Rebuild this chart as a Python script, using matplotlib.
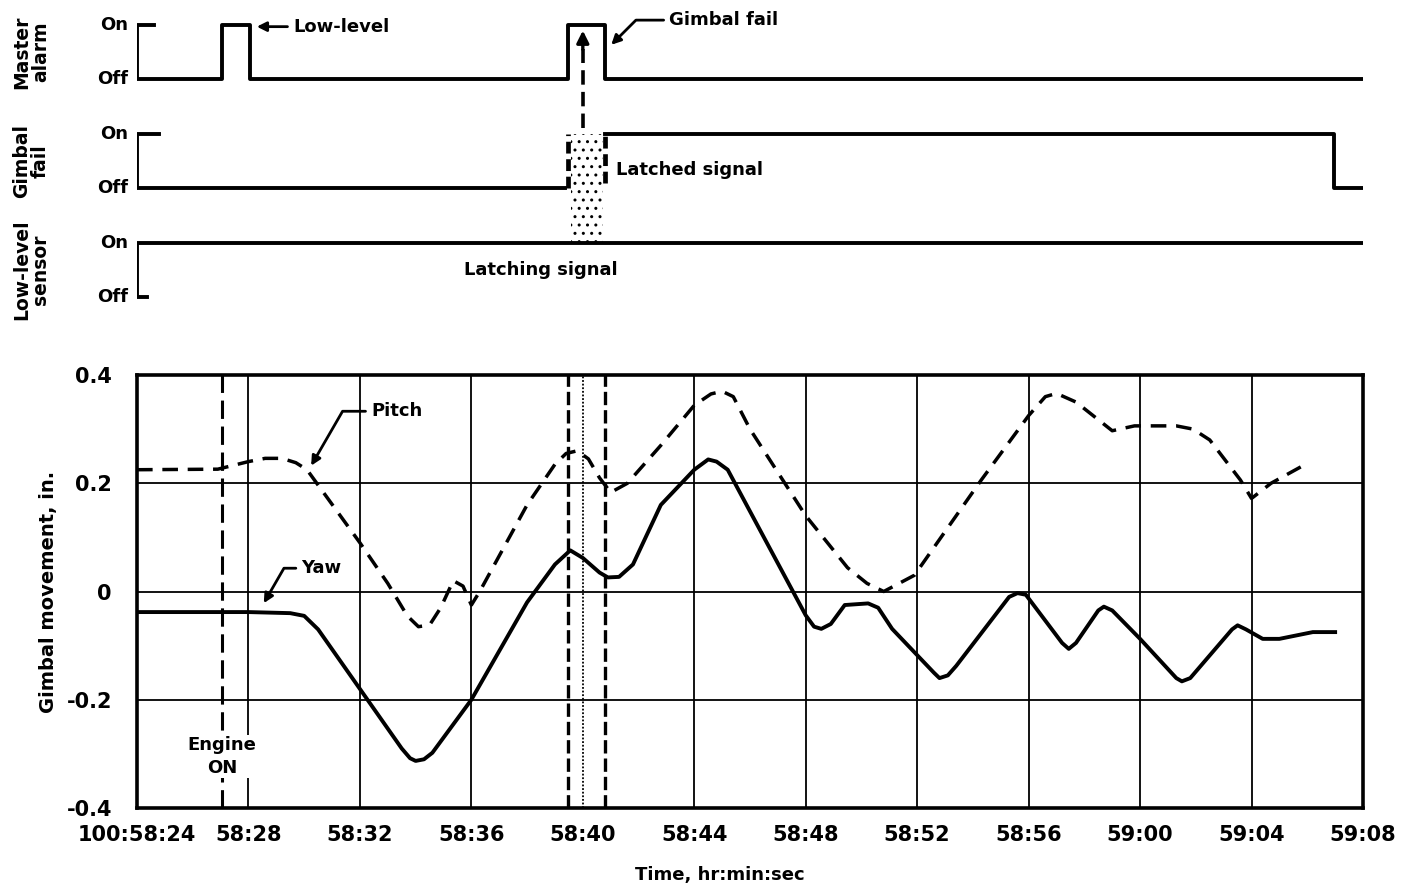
import matplotlib
matplotlib.use('Agg')
import matplotlib.pyplot as plt

plt.rcParams['font.family'] = ['DejaVu Sans']
plt.rcParams['font.weight'] = 'bold'
plt.rcParams['axes.labelweight'] = 'bold'

# time axis: seconds after 100:58:24
tick_sec = [0, 4, 8, 12, 16, 20, 24, 28, 32, 36, 40, 44]
tick_labels = ['100:58:24', '58:28', '58:32', '58:36', '58:40', '58:44',
               '58:48', '58:52', '58:56', '59:00', '59:04', '59:08']
y_ticks = [-0.4, -0.2, 0, 0.2, 0.4]
y_labels = ['-0.4', '-0.2', '0', '0.2', '0.4']

pitch_t = [0, 2.9, 4.0, 4.6, 5.2, 5.7, 6.1, 8.0, 9.0, 9.7, 10.1, 10.5, 10.9,
           11.35, 11.7, 12.0, 12.3, 14.0, 15.0, 15.4, 15.8, 16.2, 16.6, 17.0,
           17.6, 18.8, 20.0, 20.6, 21.0, 21.4, 22.0, 24.0, 25.5, 26.2, 26.8,
           27.9, 30.3, 32.0, 32.6, 33.0, 33.7, 35.0, 35.8, 37.3, 37.9, 38.5,
           39.6, 40.0, 40.7, 41.9]
pitch_v = [0.225, 0.226, 0.24, 0.246, 0.246, 0.238, 0.225, 0.09, 0.015, -0.045,
           -0.065, -0.062, -0.03, 0.02, 0.01, -0.025, 0.0, 0.16, 0.235, 0.255,
           0.26, 0.245, 0.21, 0.183, 0.2, 0.27, 0.344, 0.365, 0.37, 0.36, 0.30,
           0.14, 0.044, 0.015, 0.0, 0.03, 0.206, 0.325, 0.36, 0.366, 0.35,
           0.297, 0.306, 0.306, 0.3, 0.28, 0.206, 0.172, 0.2, 0.234]

yaw_t = [0, 4.0, 5.5, 6.0, 6.5, 8.0, 9.5, 9.8, 10.0, 10.3, 10.6, 12.0, 14.0,
         15.0, 15.55, 16.0, 16.6, 16.9, 17.3, 17.8, 18.8, 20.0, 20.5, 20.8,
         21.2, 22.5, 24.0, 24.3, 24.56, 24.9, 25.4, 26.24, 26.6, 27.1, 28.6,
         28.8, 29.1, 29.4, 31.3, 31.6, 31.9, 33.2, 33.44, 33.7, 34.5, 34.7,
         35.0, 36.0, 37.3, 37.5, 37.8, 39.3, 39.5, 39.8, 40.4, 41.0, 42.2,
         43.0]
yaw_v = [-0.038, -0.038, -0.04, -0.045, -0.07, -0.18, -0.29, -0.308, -0.313,
         -0.31, -0.298, -0.2, -0.02, 0.05, 0.076, 0.062, 0.035, 0.026, 0.027,
         0.05, 0.16, 0.225, 0.244, 0.24, 0.225, 0.1, -0.044, -0.065, -0.069,
         -0.06, -0.025, -0.022, -0.03, -0.069, -0.15, -0.16, -0.155, -0.1375,
         -0.01, -0.003, -0.006, -0.095, -0.106, -0.095, -0.035, -0.028, -0.035,
         -0.0875, -0.16, -0.166, -0.16, -0.07, -0.0625, -0.07, -0.0875, -0.0875,
         -0.075, -0.075]

engine_on = 3.05
latch_start = 15.48
latch_mid = 16.0
latch_end = 16.8

# discrete signals (1 = On, 0 = Off)
master_t = [0.6, 0, 0, 3.05, 3.05, 4.06, 4.06, 15.48, 15.48, 16.8, 16.8, 44.1]
master_s = [1, 1, 0, 0, 1, 1, 0, 0, 1, 1, 0, 0]
gimbal_before_t = [0.8, 0, 0, 15.35]
gimbal_before_s = [1, 1, 0, 0]
gimbal_after_t = [16.8, 42.95, 42.95, 44.1]
gimbal_after_s = [1, 1, 0, 0]
low_t = [0.35, 0, 0, 44.0]
low_s = [0, 0, 1, 1]

rows = ['Master\nalarm', 'Gimbal\nfail', 'Low-level\nsensor']
row_base = [4, 2, 0]

fig = plt.figure(figsize=(14.06, 8.92), dpi=100)
L, R = 137 / 1406, 1363 / 1406

# ---- top: signal traces
ax1 = fig.add_axes([L, 1 - 330 / 892, R - L, 330 / 892])
ax1.set_xlim(0, 44)
ax1.set_ylim(-0.607, 5.46)
ax1.axis('off')

lw = 2.8
ax1.plot(master_t, [s + 4 for s in master_s], color='k', lw=lw)
ax1.plot(gimbal_before_t, [s + 2 for s in gimbal_before_s], color='k', lw=lw)
ax1.plot(gimbal_after_t, [s + 2 for s in gimbal_after_s], color='k', lw=lw)
ax1.plot(low_t, low_s, color='k', lw=lw)
ax1.plot([latch_start, latch_start], [2, 3], color='k', lw=lw + 0.6, ls=(0, (2.5, 1.2)))
ax1.plot([latch_end, latch_end], [2.1, 3], color='k', lw=lw + 0.6, ls=(0, (2.5, 1.2)))
ax1.fill_between([latch_start + 0.08, latch_end - 0.08], 1, 3, facecolor='none',
                 edgecolor='k', hatch='..', linewidth=0)
ax1.plot([latch_mid, latch_mid], [3.1, 4.55], color='k', lw=2.6, ls=(0, (4, 2)))
ax1.annotate('', xy=(latch_mid, 4.95), xytext=(latch_mid, 4.5),
             arrowprops=dict(arrowstyle='-|>', color='k', lw=2.4,
                             mutation_scale=18))

for name, base in zip(rows, row_base):
    ax1.text(-0.32, base + 1, 'On', ha='right', va='center', fontsize=13, clip_on=False)
    ax1.text(-0.32, base, 'Off', ha='right', va='center', fontsize=13, clip_on=False)
    yc = 1 - (330 - (base + 0.5 + 0.607) * 54.4) / 892
    fig.text(31 / 1406, yc, name, rotation=90, ha='center', va='center',
             fontsize=13.5, linespacing=1.0)

ax1.annotate('Low-level', xy=(4.2, 4.97), xytext=(5.6, 4.97), fontsize=13,
             ha='left', va='center',
             arrowprops=dict(arrowstyle='-|>', color='k', lw=2, mutation_scale=14))
ax1.annotate('Gimbal fail', xy=(16.95, 4.6), xytext=(19.1, 5.09), fontsize=13,
             ha='left', va='center',
             arrowprops=dict(arrowstyle='-|>', color='k', lw=2, mutation_scale=14,
                             connectionstyle='angle,angleA=180,angleB=45,rad=0'))
ax1.text(17.2, 2.33, 'Latched signal', fontsize=13, ha='left', va='center')
ax1.text(14.5, 0.5, 'Latching signal', fontsize=13, ha='center', va='center')

# ---- bottom: gimbal movement
ax = fig.add_axes([L, 1 - 808 / 892, R - L, (808 - 375) / 892])
ax.set_xlim(0, 44)
ax.set_ylim(-0.4, 0.4)
for t in tick_sec:
    if t == latch_mid:
        ax.axvline(t, color='k', lw=1.3, ls=(0, (1, 1)))
    else:
        ax.axvline(t, color='k', lw=1.3)
for v in y_ticks:
    ax.axhline(v, color='k', lw=1.3)

ax.axvline(engine_on, color='k', lw=2.2, ls=(0, (6, 2.5)))
ax.axvline(latch_start, color='k', lw=2.4, ls=(0, (4, 1.5)))
ax.axvline(latch_end, color='k', lw=2.4, ls=(0, (4, 1.5)))

ax.plot(yaw_t, yaw_v, color='k', lw=2.8, solid_joinstyle='round')
ax.plot(pitch_t, pitch_v, color='k', lw=2.5, ls=(0, (4.5, 2.8)))

ax.text(engine_on, -0.305, 'Engine\nON', ha='center', va='center', fontsize=13,
        linespacing=1.3, bbox=dict(facecolor='white', edgecolor='none', pad=1))
ax.annotate('Pitch', xy=(6.2, 0.228), xytext=(8.4, 0.333), fontsize=13,
            ha='left', va='center',
            arrowprops=dict(arrowstyle='-|>', color='k', lw=2, mutation_scale=14,
                            connectionstyle='angle,angleA=180,angleB=60,rad=0'))
ax.annotate('Yaw', xy=(4.5, -0.026), xytext=(5.9, 0.043), fontsize=13,
            ha='left', va='center',
            arrowprops=dict(arrowstyle='-|>', color='k', lw=2, mutation_scale=14,
                            connectionstyle='angle,angleA=180,angleB=60,rad=0'))

ax.set_xticks(tick_sec)
ax.set_xticklabels(tick_labels, fontsize=15)
ax.set_yticks(y_ticks)
ax.set_yticklabels(y_labels, fontsize=15)
ax.tick_params(length=0, pad=12)
ax.tick_params(axis='y', pad=18)
for s in ax.spines.values():
    s.set_linewidth(2.6)
ax.set_ylabel('Gimbal movement, in.', fontsize=14, labelpad=6)
fig.text(720 / 1406, 1 - 875 / 892, 'Time, hr:min:sec', ha='center', va='center',
         fontsize=13)

fig.savefig('out.png', dpi=100)
